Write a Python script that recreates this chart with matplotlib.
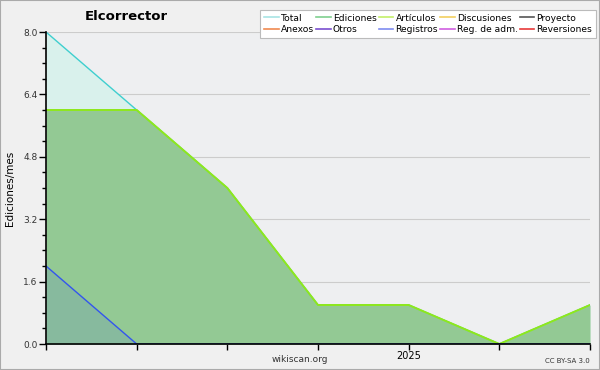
import matplotlib
matplotlib.use("Agg")
import matplotlib.pyplot as plt
from matplotlib.lines import Line2D
from matplotlib.patches import Rectangle
import numpy as np

# Data
months = [0, 1, 2, 3, 4, 5, 6]
tick_labels = ["", "", "", "", "2025", "", ""]
total = [8, 6, 4, 1, 1, 0, 1]
ediciones = [6, 6, 4, 1, 1, 0, 1]
articulos = [6, 6, 4, 1, 1, 0, 1]
registros = [2, 0, 0, 0, 0, 0, 0]

legend_names = ["Total", "Ediciones", "Artículos", "Discusiones", "Proyecto",
                "Anexos", "Otros", "Registros", "Reg. de adm.", "Reversiones"]
legend_colors = ["#a8e4e4", "#7fcf8f", "#c4f06a", "#f2d060", "#555555",
                 "#f08a50", "#7a4fd0", "#7f8cf0", "#cf5fe0", "#e83a3a"]

plt.rcParams['font.family'] = ['DejaVu Sans']

fig = plt.figure(figsize=(6, 3.7), dpi=100, facecolor="#f0f0f0")
ax = fig.add_axes([46/600, 26/370, 544/600, 312/370])
ax.set_facecolor("#eeeff1")

x = np.array(months)
ax.fill_between(x, 0, total, color="#d9f1ec", zorder=1, linewidth=0)
ax.fill_between(x, 0, ediciones, color="#93c994", zorder=2, linewidth=0)
ax.fill_between(x, 0, registros, color="#3355ee", alpha=0.12, zorder=3, linewidth=0)
ax.plot(x, total, color="#3fcfcf", lw=1, zorder=4)
ax.plot(x, ediciones, color="#7fcf8f", lw=1, zorder=4)
ax.plot(x, articulos, color="#8ee81c", lw=1.4, zorder=5)
ax.plot(x, registros, color="#3355ee", lw=1, zorder=5)

ax.set_xlim(0, 6)
ax.set_ylim(0, 8)
ax.set_xticks(months)
ax.set_xticklabels(tick_labels, fontsize=7)
ax.set_yticks([0, 1.6, 3.2, 4.8, 6.4, 8.0])
ax.set_yticklabels(["0.0", "1.6", "3.2", "4.8", "6.4", "8.0"], fontsize=6.5,
                   color="#333333")
ax.set_yticks(np.arange(0, 8.01, 0.4), minor=True)
ax.tick_params(axis='y', which='major', length=5, width=1, pad=1, color="black")
ax.tick_params(axis='y', which='minor', length=3, width=1, color="black")
ax.tick_params(axis='x', which='major', length=4, width=1, pad=1, direction='out')
ax.grid(axis='y', color="#cccccc", lw=0.8, zorder=0)
ax.set_axisbelow(True)
for s in ["top", "right"]:
    ax.spines[s].set_visible(False)
for s in ["left", "bottom"]:
    ax.spines[s].set_linewidth(1.2)
    ax.spines[s].set_zorder(10)

ax.set_ylabel("Ediciones/mes", fontsize=7.5, labelpad=6)

fig.text(85/600, 1 - 17/370, "Elcorrector", fontsize=9.5, fontweight="bold",
         va="center", ha="left")

handles = []
order = [0, 5, 1, 6, 2, 7, 3, 8, 4, 9]
for i in order:
    handles.append(Line2D([0], [0], color=legend_colors[i], lw=1.2))
labels = [legend_names[i] for i in order]
leg = fig.legend(handles, labels, ncol=5, loc="upper right",
                 bbox_to_anchor=(596/600, 1 - 10/370), fontsize=6.6,
                 handlelength=1.6, handletextpad=0.25, columnspacing=0.2,
                 labelspacing=0.3, borderpad=0.4, borderaxespad=0.0,
                 frameon=True,
                 fancybox=False, edgecolor="#bbbbbb", facecolor="white",
                 framealpha=1)
leg.get_frame().set_linewidth(0.8)

fig.text(300/600, 1 - 360/370, "wikiscan.org", fontsize=6.5, ha="center",
         va="center", color="#333333")
fig.text(590/600, 1 - 361/370, "CC BY-SA 3.0", fontsize=5, ha="right",
         va="center", color="#333333")

fig.patches.append(Rectangle((0, 0), 1, 1, transform=fig.transFigure,
                             fill=False, edgecolor="#aaaaaa", lw=1.5))

fig.savefig("out.png", dpi=100, facecolor=fig.get_facecolor())
